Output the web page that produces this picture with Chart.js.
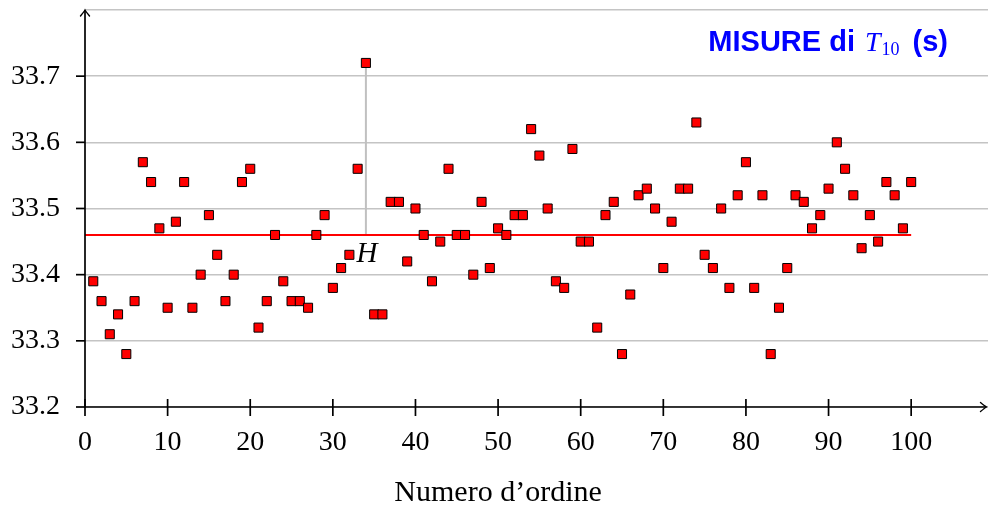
<!DOCTYPE html>
<html>
<head>
<meta charset="utf-8">
<title>Misure di T10</title>
<script src="https://cdn.jsdelivr.net/npm/chart.js@4"></script>
<style>
  html, body { margin: 0; padding: 0; background: #fff; }
  #wrap { width: 988px; height: 506px; }
</style>
</head>
<body>
<div id="wrap"><canvas id="chart"></canvas></div>

<script type="text/javascript">
// misure del periodo T10 (s), numero d'ordine da 1 a 100
var misure = [
  33.39, 33.36, 33.31, 33.34, 33.28, 33.36, 33.57, 33.54, 33.47, 33.35,
  33.48, 33.54, 33.35, 33.40, 33.49, 33.43, 33.36, 33.40, 33.54, 33.56,
  33.32, 33.36, 33.46, 33.39, 33.36, 33.36, 33.35, 33.46, 33.49, 33.38,
  33.41, 33.43, 33.56, 33.72, 33.34, 33.34, 33.51, 33.51, 33.42, 33.50,
  33.46, 33.39, 33.45, 33.56, 33.46, 33.46, 33.40, 33.51, 33.41, 33.47,
  33.46, 33.49, 33.49, 33.62, 33.58, 33.50, 33.39, 33.38, 33.59, 33.45,
  33.45, 33.32, 33.49, 33.51, 33.28, 33.37, 33.52, 33.53, 33.50, 33.41,
  33.48, 33.53, 33.53, 33.63, 33.43, 33.41, 33.50, 33.38, 33.52, 33.57,
  33.38, 33.52, 33.28, 33.35, 33.41, 33.52, 33.51, 33.47, 33.49, 33.53,
  33.60, 33.56, 33.52, 33.44, 33.49, 33.45, 33.54, 33.52, 33.47, 33.54
];
var media = 33.46;      // valore medio, linea rossa
var indiceH = 34;       // misura con lo scarto H
var xTicks = [0, 10, 20, 30, 40, 50, 60, 70, 80, 90, 100];
var yTicks = [33.2, 33.3, 33.4, 33.5, 33.6, 33.7, 33.8];
var yEtichette = ['33.2', '33.3', '33.4', '33.5', '33.6', '33.7', ''];

var punti = [];
for (var i = 0; i < misure.length; i++) {
  punti.push({x: i + 1, y: misure[i]});
}

var serif = '"Liberation Serif", "DejaVu Serif", serif';
var sans = '"Liberation Sans", Arial, sans-serif';

function linea(ctx, x1, y1, x2, y2) {
  ctx.beginPath();
  ctx.moveTo(x1, y1);
  ctx.lineTo(x2, y2);
  ctx.stroke();
}

// assi con frecce, tacche, titolo e scritte
var decorazioni = {
  id: 'decorazioni',
  afterDraw: function (chart) {
    var ctx = chart.ctx;
    var xs = chart.scales.x, ys = chart.scales.y, area = chart.chartArea;
    var x0 = xs.getPixelForValue(0);
    var y0 = ys.getPixelForValue(yTicks[0]);
    var yTop = ys.getPixelForValue(yTicks[yTicks.length - 1]);
    var xEnd = area.right - 1.5;

    ctx.save();
    ctx.strokeStyle = '#000';
    ctx.lineWidth = 1.7;
    ctx.lineCap = 'square';
    linea(ctx, x0, y0, xEnd - 1, y0);
    linea(ctx, x0, y0, x0, yTop + 1);
    ctx.lineCap = 'butt';
    xTicks.forEach(function (v) {
      var px = xs.getPixelForValue(v);
      linea(ctx, px, y0 - 8, px, y0 + 9);
    });
    yTicks.slice(0, -1).forEach(function (v) {
      var py = ys.getPixelForValue(v);
      linea(ctx, x0 - 9, py, x0, py);
    });

    // punte delle frecce
    ctx.lineWidth = 1.4;
    ctx.lineCap = 'round';
    ctx.beginPath();
    ctx.moveTo(xEnd - 6, y0 - 4.5);
    ctx.quadraticCurveTo(xEnd - 1.5, y0 - 0.8, xEnd, y0);
    ctx.quadraticCurveTo(xEnd - 1.5, y0 + 0.8, xEnd - 6, y0 + 4.5);
    ctx.stroke();
    ctx.beginPath();
    ctx.moveTo(x0 - 4.5, yTop + 6);
    ctx.quadraticCurveTo(x0 - 0.8, yTop + 1.5, x0, yTop);
    ctx.quadraticCurveTo(x0 + 0.8, yTop + 1.5, x0 + 4.5, yTop + 6);
    ctx.stroke();

    // titolo asse x, centrato sull'intervallo 0-100
    ctx.fillStyle = '#000';
    ctx.textAlign = 'center';
    ctx.textBaseline = 'alphabetic';
    ctx.font = '30px ' + serif;
    ctx.fillText('Numero d\u2019ordine', xs.getPixelForValue(50), 501);

    // etichetta H vicino alla linea dello scarto
    ctx.font = 'italic 29px ' + serif;
    ctx.fillText('H', xs.getPixelForValue(indiceH) + 1, ys.getPixelForValue(media) + 27);

    // titolo in alto a destra
    var parti = [
      {t: 'MISURE di', f: 'bold 29px ' + sans, dy: 0, gap: 10},
      {t: 'T', f: 'italic 28px ' + serif, dy: 0, gap: 1},
      {t: '10', f: '18px ' + serif, dy: 3.5, gap: 13},
      {t: '(s)', f: 'bold 29px ' + sans, dy: 0, gap: 0}
    ];
    var tot = 0;
    parti.forEach(function (p) {
      ctx.font = p.f;
      p.w = ctx.measureText(p.t).width;
      tot += p.w + p.gap;
    });
    var cx = area.right - 40 - tot;
    ctx.fillStyle = '#0000ff';
    ctx.textAlign = 'left';
    parti.forEach(function (p) {
      ctx.font = p.f;
      ctx.fillText(p.t, cx, 51 + p.dy);
      cx += p.w + p.gap;
    });
    ctx.restore();
  }
};

var config = {
  type: 'scatter',
  data: {
    datasets: [
      {
        label: 'misure',
        data: punti,
        pointStyle: 'rect',
        pointRadius: 6.4,
        pointHoverRadius: 6.4,
        backgroundColor: '#ff0000',
        borderColor: '#000',
        borderWidth: 1,
        order: 0
      },
      {
        label: 'media',
        type: 'line',
        data: [{x: 0, y: media}, {x: 100, y: media}],
        borderColor: '#ff0000',
        borderWidth: 2,
        pointRadius: 0,
        fill: false,
        order: 1
      },
      {
        label: 'H',
        type: 'line',
        data: [{x: indiceH, y: media}, {x: indiceH, y: misure[indiceH - 1]}],
        borderColor: '#c0c0c0',
        borderWidth: 2,
        pointRadius: 0,
        fill: false,
        order: 2
      }
    ]
  },
  options: {
    responsive: true,
    maintainAspectRatio: false,
    animation: false,
    layout: { autoPadding: false, padding: { top: 10, right: 0, left: 0, bottom: 0 } },
    plugins: {
      legend: { display: false },
      tooltip: { enabled: false }
    },
    scales: {
      x: {
        type: 'linear',
        min: 0,
        max: 109.3,
        grid: { display: false, drawTicks: false },
        border: { display: false },
        ticks: {
          color: '#000',
          padding: 19,
          font: { family: serif, size: 28 },
          callback: function (v) { return String(v); }
        },
        afterBuildTicks: function (s) {
          s.ticks = xTicks.map(function (v) { return {value: v}; });
        },
        afterFit: function (s) {
          s.height = 99;
          s.paddingLeft = 0;
          s.paddingRight = 0;
        }
      },
      y: {
        min: 33.2,
        max: 33.8,
        grid: { color: '#c4c4c4', lineWidth: 1.6, drawTicks: false },
        border: { display: false },
        ticks: {
          color: '#000',
          padding: 25,
          font: { family: serif, size: 28 },
          callback: function (v, i) { return yEtichette[i]; }
        },
        afterBuildTicks: function (s) {
          s.ticks = yTicks.map(function (v) { return {value: v}; });
        },
        afterFit: function (s) {
          s.width = 85;
          s.paddingTop = 0;
          s.paddingBottom = 0;
        }
      }
    }
  },
  plugins: [decorazioni]
};

var ctx = document.getElementById('chart').getContext('2d');
var chart = new Chart(ctx, config);
</script>
</body>
</html>
